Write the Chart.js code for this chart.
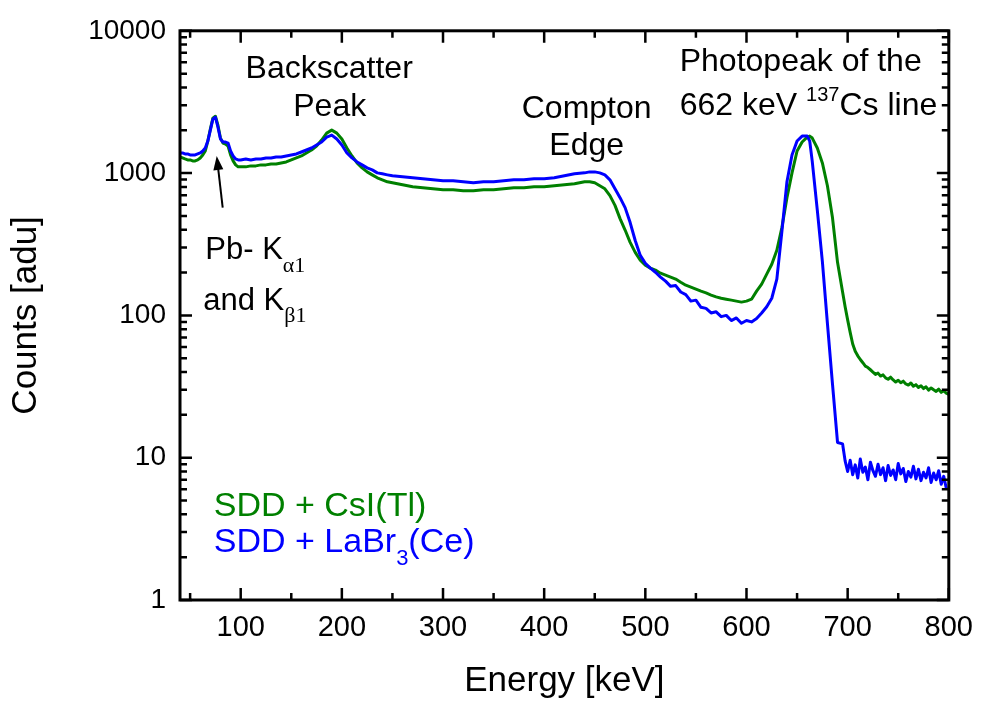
<!DOCTYPE html>
<html>
<head>
<meta charset="utf-8">
<script src="https://cdn.jsdelivr.net/npm/chart.js@4/dist/chart.umd.min.js"></script>
<style>
html,body{margin:0;padding:0;background:#fff;}
#wrap{width:984px;height:704px;}
</style>
</head>
<body>
<div id="wrap"><canvas id="c" width="984" height="704"></canvas></div>
<script>
// ---- Data ----
const energy = [
  40,42.5,45,47.5,50,52.5,55,57.5,60,62.5,65,67.5,70,72.5,75,77.5,80,82.5,85,87.5,90,92.5,95,97.5,100,
  105,110,115,120,125,130,135,140,145,150,155,160,165,170,175,180,185,190,195,200,205,210,215,220,225,230,235,240,245,250,
  260,270,280,290,300,310,320,330,340,350,360,370,380,390,400,410,420,430,
  440,445,450,455,460,465,470,475,480,485,490,495,500,505,510,515,520,525,530,535,540,545,550,555,560,565,570,575,580,585,590,595,600,605,610,615,620,625,630,635,640,645,650,655,660,
  662.5,
  665,670,675,680,685,690,695,
  697.5,700,702.5,705,707.5,710,712.5,715,717.5,720,722.5,725,727.5,730,732.5,735,737.5,740,742.5,745,
  747.5,750,752.5,755,757.5,760,762.5,765,767.5,770,772.5,775,777.5,780,782.5,785,787.5,790,792.5,795,797.5,800
];
const csiCounts = [
  1299,1278,1257,1238,1238,1218,1218,1238,1278,1341,1430,1680,2037,2431,2510,2172,1763,1626,1601,1550,1341,1218,1142,1106,1106,
  1106,1124,1124,1142,1142,1160,1160,1179,1198,1238,1278,1320,1385,1453,1550,1707,1910,2004,1910,1735,1501,1320,1179,1088,1020,972,927,897,869,855,
  828,802,789,776,764,764,752,752,764,764,776,789,789,802,802,815,828,841,
  869,869,855,815,776,694,593,479,398,326,277,244,225,215,208,198,192,186,180,171,163,158,153,148,144,139,135,132,130,128,126,124,126,130,148,166,195,229,287,415,672,1004,1430,1653,1791,
  1820,
  1763,1501,1179,815,487,236,146,
  115,93,76,63,56,52,49,46.5,44,43,41.5,40,38.5,39.3,37.5,38.2,36.4,35.6,36.8,35.2,
  34.0,35.0,33.6,34.5,33.0,32.4,33.5,31.8,32.6,31.2,32.0,30.6,31.5,29.8,30.9,30.0,29.2,30.3,28.8,29.6,28.4,27.8
];
const labrCounts = [
  1385,1385,1363,1363,1341,1341,1341,1363,1385,1430,1501,1680,2004,2392,2470,2103,1735,1653,1653,1626,1430,1320,1257,1238,1238,
  1257,1238,1257,1257,1278,1278,1299,1299,1320,1341,1363,1407,1453,1501,1575,1653,1791,1849,1735,1575,1385,1278,1198,1142,1088,1054,1004,988,972,957,
  942,927,912,897,883,883,869,855,869,869,883,897,897,912,912,927,957,988,
  1004,1020,1020,1004,972,897,776,672,572,449,336,264,232,215,201,186,174,160,162,146,140,126,128,114,112,104,106,98,100,92,96,88,92,90,95,104,115,132,180,390,870,1341,1680,1820,
  1820,
  1680,1210,550,240,88,33,12.8,
  12.5,9.5,8.0,9.6,7.6,8.9,7.2,9.8,7.9,8.6,7.0,9.3,8.1,7.4,9.0,7.6,8.5,6.9,8.8,7.5,
  8.2,7.0,9.1,7.7,8.4,6.8,8.0,7.3,8.7,7.1,8.3,6.9,7.9,7.2,8.5,6.7,7.8,7.0,8.1,6.5,7.4,6.1
];
const xTickValues = [100,200,300,400,500,600,700,800];
const yTickValues = [1,10,100,1000,10000];
const seriesNames = ['SDD + CsI(Tl)', 'SDD + LaBr', '(Ce)'];

const GREEN = '#008000';
const BLUE = '#0000ff';
const SANS = '"Liberation Sans", Arial, sans-serif';
const SERIF = '"Liberation Serif", "Times New Roman", serif';

const framePlugin = {
  id: 'frame',
  afterDatasetsDraw(chart) {
    const {ctx, chartArea: a, scales: {x, y}} = chart;
    ctx.save();
    ctx.strokeStyle = '#000';
    ctx.lineCap = 'butt';
    ctx.lineWidth = 2.5;
    ctx.beginPath();
    const seg = (x1, y1, x2, y2) => { ctx.moveTo(x1, y1); ctx.lineTo(x2, y2); };
    const xMinor = xTickValues.map(v => v - 50).filter(v => v >= x.min);
    xTickValues.forEach(v => { const p = x.getPixelForValue(v); seg(p, a.bottom, p, a.bottom - 12); seg(p, a.top, p, a.top + 12); });
    xMinor.forEach(v => { const p = x.getPixelForValue(v); seg(p, a.bottom, p, a.bottom - 7); seg(p, a.top, p, a.top + 7); });
    yTickValues.forEach(v => { const p = y.getPixelForValue(v); seg(a.left, p, a.left + 12, p); seg(a.right, p, a.right - 12, p); });
    yTickValues.slice(0, -1).forEach(d => {
      for (let m = 2; m <= 9; m++) {
        const p = y.getPixelForValue(d * m);
        seg(a.left, p, a.left + 7, p); seg(a.right, p, a.right - 7, p);
      }
    });
    ctx.stroke();
    ctx.lineWidth = 3;
    ctx.strokeRect(a.left, a.top, a.right - a.left, a.bottom - a.top);
    ctx.restore();
  }
};

function textWithSub(ctx, parts, x, y) {
  let cx = x;
  parts.forEach(p => {
    ctx.font = p.font;
    ctx.fillText(p.t, cx, y + (p.dy || 0));
    cx += ctx.measureText(p.t).width;
  });
}

const annotPlugin = {
  id: 'annot',
  afterDraw(chart) {
    const {ctx, scales: {x, y}} = chart;
    const px = v => x.getPixelForValue(v), py = v => y.getPixelForValue(v);
    ctx.save();
    ctx.fillStyle = '#000';
    ctx.textBaseline = 'alphabetic';
    const F = '32px ' + SANS;
    ctx.font = F;
    ctx.textAlign = 'center';
    ctx.fillText('Backscatter', px(187.5), py(4624));
    ctx.fillText('Peak', px(188), py(2510));
    ctx.fillText('Compton', px(442), py(2431));
    ctx.fillText('Edge', px(442), py(1341));
    ctx.textAlign = 'left';
    ctx.fillText('Photopeak of the', px(534), py(5258));
    textWithSub(ctx, [
      {t: '662 keV ', font: F},
      {t: '137', font: '20px ' + SANS, dy: -14},
      {t: 'Cs line', font: F}
    ], px(534), py(2551));
    textWithSub(ctx, [
      {t: 'Pb- K', font: '31px ' + SANS},
      {t: 'α1', font: '22px ' + SERIF, dy: 13}
    ], px(65), py(248));
    textWithSub(ctx, [
      {t: 'and K', font: '31px ' + SANS},
      {t: 'β1', font: '22px ' + SERIF, dy: 12}
    ], px(63), py(109));
    // arrow
    const x1 = px(82.2), y1 = py(572), x2 = px(76.3), y2 = py(1319);
    ctx.strokeStyle = '#000'; ctx.lineWidth = 2;
    const ang = Math.atan2(y2 - y1, x2 - x1);
    ctx.beginPath(); ctx.moveTo(x1, y1); ctx.lineTo(x2 - 8 * Math.cos(ang), y2 - 8 * Math.sin(ang)); ctx.stroke();
    ctx.beginPath();
    ctx.moveTo(x2, y2);
    ctx.lineTo(x2 - 14 * Math.cos(ang) + 5 * Math.sin(ang), y2 - 14 * Math.sin(ang) - 5 * Math.cos(ang));
    ctx.lineTo(x2 - 14 * Math.cos(ang) - 5 * Math.sin(ang), y2 - 14 * Math.sin(ang) + 5 * Math.cos(ang));
    ctx.closePath(); ctx.fillStyle = '#000'; ctx.fill();
    // legend text
    const L = '34px ' + SANS;
    ctx.fillStyle = GREEN;
    textWithSub(ctx, [{t: seriesNames[0], font: L}], px(73.4), py(3.92));
    ctx.fillStyle = BLUE;
    textWithSub(ctx, [
      {t: seriesNames[1], font: L},
      {t: '3', font: '22px ' + SANS, dy: 13},
      {t: seriesNames[2], font: L}
    ], px(73.4), py(2.16));
    ctx.restore();
  }
};

const mk = arr => energy.map((e, i) => ({x: e, y: arr[i]}));

new Chart(document.getElementById('c'), {
  type: 'line',
  data: {
    datasets: [
      {label: 'SDD + LaBr3(Ce)', data: mk(labrCounts), borderColor: BLUE, borderWidth: 3, borderJoinStyle: 'round', pointRadius: 0, tension: 0, order: 0},
      {label: 'SDD + CsI(Tl)', data: mk(csiCounts), borderColor: GREEN, borderWidth: 3, borderJoinStyle: 'round', pointRadius: 0, tension: 0, order: 1}
    ]
  },
  options: {
    responsive: false,
    animation: false,
    devicePixelRatio: 1,
    layout: {padding: {top: 27, right: 29, left: 0, bottom: 0}},
    plugins: {legend: {display: false}, tooltip: {enabled: false}},
    scales: {
      x: {
        type: 'linear', min: 40, max: 800,
        grid: {display: false, drawTicks: false},
        border: {display: false},
        afterBuildTicks: s => { s.ticks = xTickValues.map(v => ({value: v})); },
        afterFit: s => { s.height = 104; },
        ticks: {color: '#000', font: {family: SANS, size: 29}, padding: 11, maxRotation: 0, autoSkip: false},
        title: {display: true, text: 'Energy [keV]', color: '#000', font: {family: SANS, size: 35}, padding: {top: 0, bottom: 2}}
      },
      y: {
        type: 'logarithmic', min: 1, max: 10000,
        grid: {display: false, drawTicks: false},
        border: {display: false},
        afterBuildTicks: s => { s.ticks = yTickValues.map(v => ({value: v})); },
        afterFit: s => { s.width = 180; },
        ticks: {color: '#000', font: {family: SANS, size: 28}, padding: 14, autoSkip: false, callback: v => String(v)},
        title: {display: true, text: 'Counts [adu]', color: '#000', font: {family: SANS, size: 35}, padding: {top: 5, bottom: 0}}
      }
    }
  },
  plugins: [framePlugin, annotPlugin]
});
</script>
</body>
</html>
